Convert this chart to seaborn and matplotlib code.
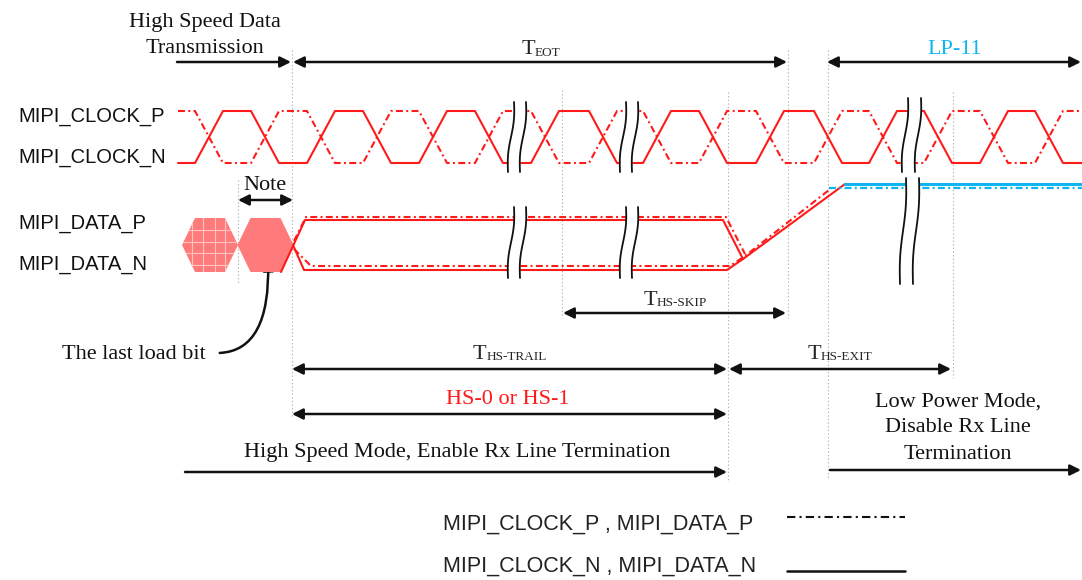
#!/usr/bin/env python3
# MIPI HS -> LP-11 end-of-transmission timing diagram (pixel grid of the reference, y grows downward)

import numpy as np
import pandas as pd
import seaborn as sns
import matplotlib
matplotlib.use("Agg")
import matplotlib.pyplot as plt
from matplotlib.patches import Polygon, FancyArrowPatch

# ------------------------- 0. waveform data -------------------------
CLK_HIGH, CLK_LOW = 111, 163
CLK_SEGMENTS = [(178, 517), (517, 629), (629, 911), (911, 1082)]
CLK_N_START = [0, 0, 0, 1]                       # 0 = low, 1 = high
CLK_EDGES = [
    [209, 265, 321, 377, 433, 489],
    [545, 603],
    [657, 713, 770, 828, 883],
    [938, 994, 1049],
]
EDGE_HALF = 14

DATA_N_UPPER_X = [281, 305, 723, 743]
DATA_N_UPPER_Y = [272, 220, 220, 259]
DATA_N_LOWER_X = [293, 304, 727, 743, 845]
DATA_N_LOWER_Y = [245, 270, 270, 259, 184]
DATA_P_UPPER_X = [294, 306, 726, 745]
DATA_P_UPPER_Y = [241, 217, 217, 254]
DATA_P_LOWER_X = [294, 311, 730, 745, 829]
DATA_P_LOWER_Y = [249, 266, 266, 256, 190]
LP11_N_X, LP11_N_Y = [845, 1082], [184, 184]
LP11_P_X, LP11_P_Y = [829, 1082], [188, 188]

HEX_CENTERS = [210, 265.5]

BREAKS = [  # x left, x right, y top, y bottom
    (511, 523, 102, 172), (511, 523, 207, 278),
    (623, 635, 102, 172), (623, 635, 207, 278),
    (905, 918, 98, 172), (903, 916, 178, 284),
]

GUIDES = [  # x, y top, y bottom
    (238, 180, 284), (292, 50, 416), (562, 90, 318), (728, 92, 482),
    (788, 50, 318), (828, 50, 478), (953, 92, 378),
]

ARROWS = [  # x from, x to, y, both heads
    (177, 291, 62, False), (293, 787, 62, True), (827, 1081, 62, True),
    (238, 293, 200, True), (563, 786, 313, True),
    (292, 727, 369, True), (729, 951, 369, True), (292, 727, 414, True),
    (185, 727, 472, False), (830, 1081, 470, False),
]

RED = "#FF1A1A"
BLUE = "#0FB4F0"
HEX = "#FF7B7B"
SERIF = ["Liberation Serif", "DejaVu Serif"]
SANS = ["Liberation Sans", "DejaVu Sans"]
DASHDOT = (0, (5, 2.4, 1.4, 2.4))


def clock_wave(x0, x1, level, edges):
    xs, ys = [x0], [level]
    for e in edges:
        xs += [e - EDGE_HALF, e + EDGE_HALF]
        ys += [level, 1 - level]
        level = 1 - level
    xs.append(x1)
    ys.append(level)
    ys = [CLK_HIGH if v else CLK_LOW for v in ys]
    return xs, ys


def line(ax, xs, ys, color, lw=1.5, ls="-", z=3):
    df = pd.DataFrame({"x": xs, "y": ys})
    sns.lineplot(data=df, x="x", y="y", sort=False, estimator=None, color=color,
                 lw=lw, linestyle=ls, ax=ax, zorder=z)


def draw_break(ax, xl, xr, yt, yb):
    t = np.linspace(0, 1, 40)
    y = yt + (yb - yt) * t
    shift = (0.5 - t) * 6 + 1.4 * np.sin(2 * np.pi * t)
    ax.fill_betweenx(y, xl + shift, xr + shift, color="white", lw=0, zorder=6)
    ax.plot(xl + shift, y, color="#111111", lw=1.3, zorder=7)
    ax.plot(xr + shift, y, color="#111111", lw=1.3, zorder=7)


def t_label(ax, r, xc, base, sub):
    t1 = ax.text(0, base, "T", fontsize=16, family=SERIF, va="baseline", ha="left")
    t2 = ax.text(0, base + 1.5, sub, fontsize=9.5, family=SERIF, va="baseline", ha="left")
    w1 = t1.get_window_extent(r).width
    w2 = t2.get_window_extent(r).width
    x0 = xc - (w1 + w2) / 2
    t1.set_x(x0)
    t2.set_x(x0 + w1)


def main():
    sns.set_theme(style="white")
    plt.rcParams["font.family"] = SANS
    plt.rcParams["lines.scale_dashes"] = False

    fig = plt.figure(figsize=(10.82, 5.80), dpi=100)
    ax = fig.add_axes([0, 0, 1, 1])
    ax.set_xlim(0, 1082)
    ax.set_ylim(580, 0)
    ax.axis("off")
    r = fig.canvas.get_renderer()

    # guides
    for gx, y0, y1 in GUIDES:
        ax.plot([gx, gx], [y0, y1], color="#b5b5b5", lw=0.8, ls=(0, (1, 1.6)), zorder=1)

    # clock
    for (x0, x1), lvl, edges in zip(CLK_SEGMENTS, CLK_N_START, CLK_EDGES):
        xs, ys = clock_wave(x0, x1, lvl, edges)
        line(ax, xs, ys, RED)
        xs, ys = clock_wave(x0, x1, 1 - lvl, edges)
        line(ax, xs, ys, RED, ls=DASHDOT)

    # data
    line(ax, DATA_N_UPPER_X, DATA_N_UPPER_Y, RED)
    line(ax, DATA_N_LOWER_X, DATA_N_LOWER_Y, RED)
    line(ax, DATA_P_UPPER_X, DATA_P_UPPER_Y, RED, ls=DASHDOT)
    line(ax, DATA_P_LOWER_X, DATA_P_LOWER_Y, RED, ls=DASHDOT)
    line(ax, LP11_N_X, LP11_N_Y, BLUE, lw=2.2)
    line(ax, LP11_P_X, LP11_P_Y, BLUE, lw=1.6, ls=DASHDOT)

    # last HS bits
    for i, cx in enumerate(HEX_CENTERS):
        pts = [(cx - 28, 245), (cx - 15, 218), (cx + 15, 218),
               (cx + 28, 245), (cx + 15, 272), (cx - 15, 272)]
        hexp = Polygon(pts, closed=True, fc=HEX, ec="none", zorder=2)
        ax.add_patch(hexp)
        if i == 0:
            for off in (-18, -7, 5, 15):
                g, = ax.plot([cx + off] * 2, [214, 276], color="#FFC2C2", lw=0.8, zorder=2.5)
                g.set_clip_path(hexp)
            for off in (-15, -3, 8, 20):
                g, = ax.plot([cx - 30, cx + 30], [245 + off] * 2, color="#FFC2C2", lw=0.8, zorder=2.5)
                g.set_clip_path(hexp)

    for b in BREAKS:
        draw_break(ax, *b)

    # arrows
    for x0, x1, y, both in ARROWS:
        ax.annotate("", xy=(x1, y), xytext=(x0, y),
                    arrowprops=dict(arrowstyle="<|-|>" if both else "-|>", color="#111111",
                                    lw=1.8, mutation_scale=16, shrinkA=0, shrinkB=0))
    ax.add_patch(FancyArrowPatch((217, 353), (268, 257), connectionstyle="angle3,angleA=0,angleB=92",
                                 arrowstyle="-|>", mutation_scale=16, lw=1.8, color="#111111"))

    # signal names
    for name, base in [("MIPI_CLOCK_P", 122), ("MIPI_CLOCK_N", 163),
                       ("MIPI_DATA_P", 229), ("MIPI_DATA_N", 270)]:
        ax.text(18, base, name, fontsize=14.5, family=SANS, va="baseline", ha="left", color="#111111")

    sk = dict(fontsize=16, family=SERIF, va="baseline", ha="center", color="#111111")
    ax.text(205, 27, "High Speed Data", **sk)
    ax.text(205, 53, "Transmission", **sk)
    ax.text(955, 54, "LP-11", **{**sk, "color": BLUE})
    ax.text(265, 190, "Note", **sk)
    ax.text(62, 359, "The last load bit", **{**sk, "ha": "left"})
    ax.text(508, 404, "HS-0 or HS-1", **{**sk, "color": RED})
    ax.text(457, 457, "High Speed Mode, Enable Rx Line Termination", **sk)
    ax.text(958, 407, "Low Power Mode,", **sk)
    ax.text(958, 432, "Disable Rx Line", **sk)
    ax.text(958, 459, "Termination", **sk)

    t_label(ax, r, 541, 54, "EOT")
    t_label(ax, r, 675, 305, "HS-SKIP")
    t_label(ax, r, 510, 359, "HS-TRAIL")
    t_label(ax, r, 840, 359, "HS-EXIT")

    # legend
    ax.text(443, 530, "MIPI_CLOCK_P , MIPI_DATA_P", fontsize=15.5, family=SANS, va="baseline", color="#222222")
    ax.text(443, 572, "MIPI_CLOCK_N , MIPI_DATA_N", fontsize=15.5, family=SANS, va="baseline", color="#222222")
    line(ax, [787, 905], [517, 517], "#111111", lw=1.5, ls=(0, (6, 3, 1.5, 3)))
    line(ax, [787, 905], [571, 571], "#111111", lw=1.8)

    ax.set_xlim(0, 1082)
    ax.set_ylim(580, 0)
    ax.axis("off")
    fig.savefig("out.png", dpi=100)


if __name__ == "__main__":
    main()
